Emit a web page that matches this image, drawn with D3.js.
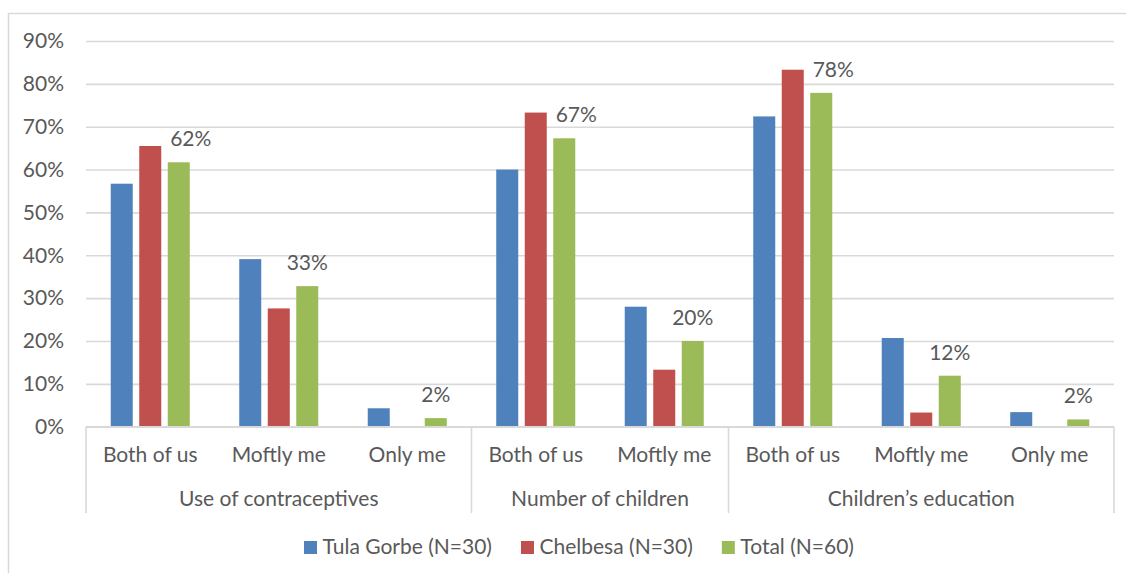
<!DOCTYPE html>
<html>
<head>
<meta charset="utf-8">
<script src="https://cdn.jsdelivr.net/npm/d3@7/dist/d3.min.js"></script>
<style>
  html, body { margin: 0; padding: 0; background: #fff; }
  svg { display: block; }
  text { font-family: Lato, "Liberation Sans", sans-serif; fill: #595959; }
</style>
</head>
<body>
<svg id="chart" width="1126" height="573"></svg>
<script>
// Decision-making survey: who decides, by topic and site
const groupNames = ["Use of contraceptives", "Number of children", "Children’s education"];
const categoryLabels = ["Both of us", "Moftly me", "Only me", "Both of us", "Moftly me", "Both of us", "Moftly me", "Only me"];
const categoryGroup = [0, 0, 0, 1, 1, 2, 2, 2];

const seriesNames = ["Tula Gorbe (N=30)", "Chelbesa (N=30)", "Total (N=60)"];
const tulaGorbe = [0.567, 0.391, 0.043, 0.600, 0.280, 0.724, 0.207, 0.034];
const chelbesa  = [0.655, 0.276, 0.000, 0.733, 0.133, 0.833, 0.033, 0.000];
const total     = [0.617, 0.328, 0.020, 0.673, 0.200, 0.779, 0.119, 0.017];

const yTicks = [0, 0.1, 0.2, 0.3, 0.4, 0.5, 0.6, 0.7, 0.8, 0.9];

const colors = ["#4F81BD", "#C0504D", "#9BBB59"];
const series = [tulaGorbe, chelbesa, total];

const svg = d3.select("#chart");
const fontSize = 21;
const gridColor = "#d9d9d9";

// outer chart frame
svg.append("rect")
  .attr("x", 8.5).attr("y", 13.5)
  .attr("width", 1300).attr("height", 800)
  .attr("fill", "none").attr("stroke", gridColor).attr("stroke-width", 1.5);

const plot = { left: 86, right: 1114, top: 41, bottom: 426.7 };

const x0 = d3.scaleBand()
  .domain(d3.range(categoryLabels.length))
  .range([plot.left, plot.right])
  .padding(0);

const x1 = d3.scaleBand()
  .domain(d3.range(series.length))
  .range([0, x0.bandwidth()])
  .paddingInner(0.228)
  .paddingOuter(0.868);

const y = d3.scaleLinear().domain([0, 0.9]).range([plot.bottom, plot.top]);
const pct = d3.format(".0%");

// horizontal gridlines and value axis labels
const yAxis = d3.axisLeft(y)
  .tickValues(yTicks)
  .tickFormat(pct)
  .tickSize(-(plot.right - plot.left))
  .tickPadding(22);

const yg = svg.append("g")
  .attr("transform", `translate(${plot.left},0)`)
  .call(yAxis);
yg.select(".domain").remove();
yg.selectAll(".tick line")
  .attr("stroke", gridColor).attr("stroke-width", 1.6);
yg.selectAll(".tick text")
  .attr("font-size", fontSize)
  .attr("font-family", "Lato, 'Liberation Sans', sans-serif")
  .attr("fill", "#595959");

// bars
const barLayer = svg.append("g");
series.forEach((vals, s) => {
  barLayer.selectAll(null)
    .data(vals)
    .join("rect")
    .attr("x", (d, i) => x0(i) + x1(s))
    .attr("width", x1.bandwidth())
    .attr("y", d => y(d))
    .attr("height", d => y(0) - y(d))
    .attr("fill", colors[s]);
});

// value labels for the total series; nudged right when the neighbouring red bar is taller
svg.append("g").selectAll("text")
  .data(total)
  .join("text")
  .attr("x", (d, i) => x0(i) + x1(2) + x1.bandwidth() / 2 + (chelbesa[i] > d ? 12 : 0))
  .attr("y", d => y(d) - 16)
  .attr("text-anchor", "middle")
  .attr("font-size", fontSize)
  .text(d => pct(d));

// category axis line
svg.append("line")
  .attr("x1", plot.left).attr("x2", plot.right)
  .attr("y1", plot.bottom).attr("y2", plot.bottom)
  .attr("stroke", gridColor).attr("stroke-width", 1.6);

// group separators
const groupBounds = groupNames.map((g, gi) => {
  const idx = categoryGroup.map((c, i) => c === gi ? i : -1).filter(i => i >= 0);
  return { name: g, x0: x0(idx[0]), x1: x0(idx[idx.length - 1]) + x0.bandwidth() };
});
const sepX = [groupBounds[0].x0, ...groupBounds.map(b => b.x1)];
svg.append("g").selectAll("line")
  .data(sepX)
  .join("line")
  .attr("x1", d => d).attr("x2", d => d)
  .attr("y1", plot.bottom).attr("y2", 513)
  .attr("stroke", gridColor).attr("stroke-width", 1.6);

// category labels
svg.append("g").selectAll("text")
  .data(categoryLabels)
  .join("text")
  .attr("x", (d, i) => x0(i) + x0.bandwidth() / 2)
  .attr("y", 462)
  .attr("text-anchor", "middle")
  .attr("font-size", fontSize)
  .text(d => d);

// group labels
svg.append("g").selectAll("text")
  .data(groupBounds)
  .join("text")
  .attr("x", d => (d.x0 + d.x1) / 2)
  .attr("y", 506)
  .attr("text-anchor", "middle")
  .attr("font-size", fontSize)
  .text(d => d.name);

// legend, centred under the chart
const legend = svg.append("g");
const items = legend.selectAll("g")
  .data(seriesNames)
  .join("g");
items.append("rect")
  .attr("width", 13).attr("height", 13)
  .attr("y", 541)
  .attr("fill", (d, i) => colors[i]);
items.append("text")
  .attr("x", 18.5)
  .attr("y", 554)
  .attr("font-size", fontSize)
  .text(d => d);
const widths = [];
items.each(function () {
  widths.push(d3.select(this).select("text").node().getComputedTextLength() + 18.5);
});
const gap = 29;
const totalW = d3.sum(widths) + gap * (widths.length - 1);
let start = 579 - totalW / 2;
items.attr("transform", (d, i) => {
  const t = `translate(${start},0)`;
  start += widths[i] + gap;
  return t;
});
</script>
</body>
</html>
